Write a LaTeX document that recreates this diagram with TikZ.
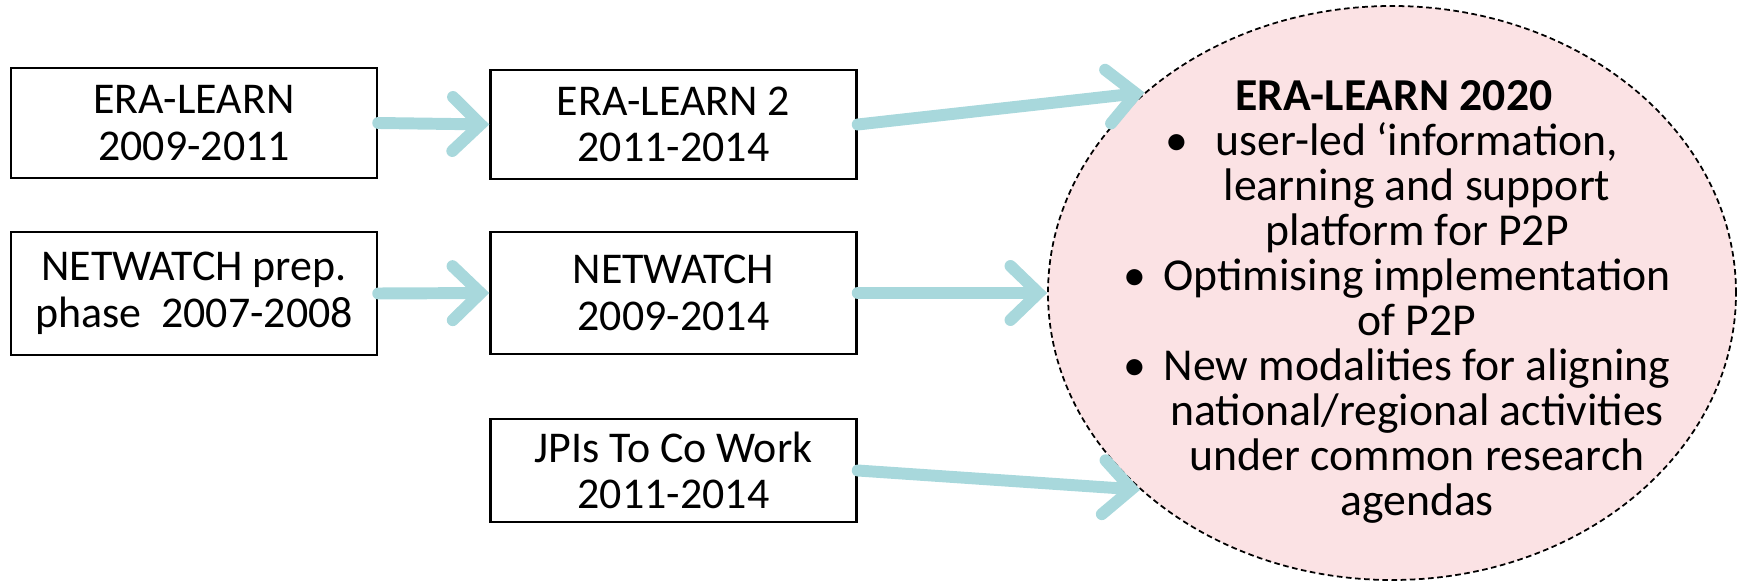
\documentclass[tikz,border=0pt]{standalone}
\usepackage{fontspec}
\setmainfont{Carlito}
\usetikzlibrary{arrows.meta,shapes.geometric}
\definecolor{arrowteal}{RGB}{168,216,220}
\definecolor{ellpink}{RGB}{251,226,228}
\tikzset{box/.style={draw=black, line width=0.7pt, minimum width=3.66cm, inner sep=0pt, align=center, font=\fontsize{12.5}{13.3}\selectfont},
         flow/.style={draw=arrowteal, line width=3.4pt, line cap=round, -{Straight Barb[length=2.8mm,width=5.4mm,line cap=round]}}}

\begin{document}
\begin{tikzpicture}
   \useasboundingbox (0,0) rectangle (17.40,5.86);
   \begin{scope}
    \node[box, minimum height=1.10cm] (eralearn)    at (1.94,4.63)   {ERA-LEARN\\2009-2011};
    \node[box, minimum height=1.09cm] (eralearntwo) at (6.735,4.615) {ERA-LEARN 2\\2011-2014};
    \node[box, minimum height=1.23cm] (nwprep)      at (1.94,2.925)  {NETWATCH prep.\\phase\ \ 2007-2008};
    \node[box, minimum height=1.22cm] (netwatch)    at (6.735,2.93)  {NETWATCH\\2009-2014};
    \node[box, minimum height=1.03cm] (jpis)        at (6.735,1.155) {JPIs To Co Work\\2011-2014};
   \end{scope}
   \begin{scope}
    \node[ellipse, draw=black, line width=0.5pt, dash pattern=on 1.6pt off 1pt, fill=ellpink,
          minimum width=6.88cm, minimum height=5.74cm, inner sep=0pt] (era2020) at (13.92,2.93) {};
    \node[align=center, inner sep=0pt, font=\fontsize{13}{12.8}\selectfont] (era2020text) at (14.17,2.84)
     {\textbf{ERA-LEARN 2020}\rule{0.46cm}{0pt}\\
      \llap{\textbullet\hspace{0.28cm}}user-led ‘information,\\
      learning and support\\
      platform for P2P\\
      \llap{\textbullet\hspace{0.17cm}}Optimising implementation\\
      of P2P\\
      \llap{\textbullet\hspace{0.17cm}}New modalities for aligning\\
      national/regional activities\\
      under common research\\
      agendas};
   \end{scope}
   \draw[flow] (eralearn.east)    -- (eralearntwo.west);
   \draw[flow] (nwprep.east)      -- (netwatch.west);
   \draw[flow] (eralearntwo.east) -- (era2020.141);
   \draw[flow] (netwatch.east)    -- (era2020.west);
   \draw[flow] (jpis.east)        -- (era2020.218);
\end{tikzpicture}
\end{document}
